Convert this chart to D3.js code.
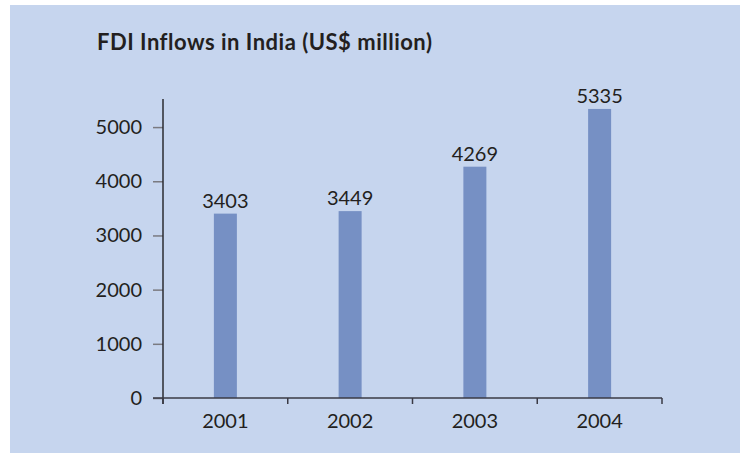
<!DOCTYPE html>
<html>
<head>
<meta charset="utf-8">
<script src="https://cdn.jsdelivr.net/npm/d3@7/dist/d3.min.js"></script>
<style>
  html, body { margin: 0; padding: 0; background: #ffffff; }
  svg { display: block; }
  text { font-family: Lato, "Open Sans", sans-serif; fill: #231f20; }
</style>
</head>
<body>
<svg id="chart" width="740" height="453"></svg>
<script>
// FDI inflows into India, US$ million
const years = ["2001", "2002", "2003", "2004"];
const inflows = [3403, 3449, 4269, 5335];
const yTicks = [0, 1000, 2000, 3000, 4000, 5000];
const title = "FDI Inflows in India (US$ million)";

const svg = d3.select("#chart");
const W = 740, H = 453;
const numSize = 20;

// light blue panel
svg.append("rect")
  .attr("x", 10).attr("y", 5)
  .attr("width", W - 10).attr("height", H - 5)
  .attr("fill", "#c6d5ee");

const plot = { left: 163, right: 662, top: 100, bottom: 398 };

const x = d3.scaleBand()
  .domain(years)
  .range([plot.left, plot.right])
  .paddingInner(0)
  .paddingOuter(0);

const y = d3.scaleLinear()
  .domain([0, 5500])
  .range([plot.bottom, plot.top]);

const barW = 23;

// title
svg.append("text")
  .attr("x", 97).attr("y", 50)
  .attr("font-size", 22)
  .attr("font-weight", "bold")
  .attr("letter-spacing", 0.5)
  .text(title);

// bars
svg.append("g").selectAll("rect")
  .data(years)
  .join("rect")
  .attr("x", (d) => x(d) + x.bandwidth() / 2 - barW / 2)
  .attr("width", barW)
  .attr("y", (d, i) => y(inflows[i]))
  .attr("height", (d, i) => y(0) - y(inflows[i]))
  .attr("fill", "#7690c4");

// value labels above bars
svg.append("g").selectAll("text")
  .data(years)
  .join("text")
  .attr("x", (d) => x(d) + x.bandwidth() / 2)
  .attr("y", (d, i) => y(inflows[i]) - 6)
  .attr("text-anchor", "middle")
  .attr("font-size", numSize)
  .text((d, i) => inflows[i]);

// y axis
const yAxis = d3.axisLeft(y)
  .tickValues(yTicks)
  .tickSize(10)
  .tickPadding(11)
  .tickFormat(d3.format("d"));

const gy = svg.append("g")
  .attr("transform", `translate(${plot.left},0)`)
  .call(yAxis);
gy.select(".domain").remove();
gy.selectAll(".tick line").attr("stroke", "#7a7a80").attr("stroke-width", 1.5);
gy.selectAll(".tick text")
  .attr("font-size", numSize)
  .attr("fill", "#231f20")
  .style("font-family", "Lato, sans-serif");

svg.append("line")
  .attr("x1", plot.left).attr("x2", plot.left)
  .attr("y1", plot.top - 1).attr("y2", plot.bottom + 6)
  .attr("stroke", "#2b2b30").attr("stroke-width", 1.5);

// x axis
svg.append("line")
  .attr("x1", plot.left - 10).attr("x2", plot.right)
  .attr("y1", plot.bottom).attr("y2", plot.bottom)
  .attr("stroke", "#3a3a44").attr("stroke-width", 1.5);

const boundaries = years.map((d) => x(d)).concat([x.range()[1]]);
svg.append("g").selectAll("line")
  .data(boundaries)
  .join("line")
  .attr("x1", (d) => d).attr("x2", (d) => d)
  .attr("y1", plot.bottom).attr("y2", plot.bottom + 6)
  .attr("stroke", "#3a3a44").attr("stroke-width", 1.5);

svg.append("g").selectAll("text")
  .data(years)
  .join("text")
  .attr("x", (d) => x(d) + x.bandwidth() / 2)
  .attr("y", 428)
  .attr("text-anchor", "middle")
  .attr("font-size", numSize)
  .text((d) => d);
</script>
</body>
</html>
